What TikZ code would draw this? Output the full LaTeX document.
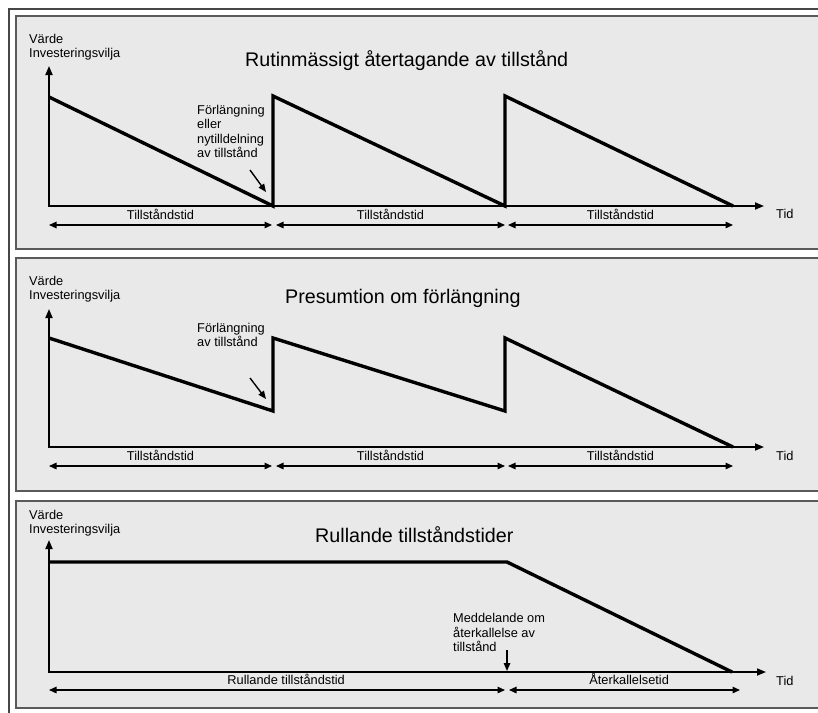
\documentclass[tikz,border=0pt]{standalone}
\usepackage{fontspec}
\setmainfont{Liberation Sans}
\usetikzlibrary{arrows.meta,positioning}
\definecolor{panelfill}{RGB}{233,233,233}
\definecolor{panelrim}{RGB}{90,90,90}
\definecolor{framerim}{RGB}{70,70,70}
\tikzset{
  % texts
  lbl/.style={font=\fontsize{12.8}{14.5}\selectfont, inner sep=0pt},
  ttl/.style={font=\fontsize{19.7}{22}\selectfont, inner sep=0pt, anchor=base west},
  % panels
  panel/.style={draw=panelrim, fill=panelfill, line width=1.5pt},
  % axes, both ends tipped
  axes/.style={{Triangle[length=9pt,width=7pt]}-{Triangle[length=9pt,width=7pt]}, line width=1.7pt},
  % value line
  valueline/.style={line width=3.4pt},
  % time spans
  tspan/.style={{Triangle[length=7.5pt,width=6.5pt]}-{Triangle[length=7.5pt,width=6.5pt]}, line width=1.3pt},
  % pointer arrows
  ptr/.style={-{Triangle[length=8pt,width=6.5pt]}, line width=1.4pt},
}
\begin{document}
\begin{tikzpicture}[x=1pt, y=-1pt]
  \useasboundingbox (0,0) rectangle (818,712);
  \clip (0,0) rectangle (818,712);

  % Frame and panels
  \draw[framerim, line width=1.5pt, fill=white] (9,9) rectangle (830,720);
  \draw[panel] (16,16) rectangle (830,249);
  \draw[panel] (16,258) rectangle (830,491);
  \draw[panel] (16,501) rectangle (830,708);

  % Panel 1
  \node[ttl] (ttl1) at (245,66) {Rutinmässigt återtagande av tillstånd};
  \node[lbl, align=left, anchor=north west] (val1) at (29,33.8) {Värde\\Investeringsvilja};
  \coordinate (y1) at (49,66);
  \coordinate (o1) at (49,206);
  \coordinate (x1) at (764,206);
  \node[lbl, anchor=base west] (tid1) at (776,218) {Tid};
  \draw[axes] (y1) -- (o1) -- (x1);
  \draw[valueline] (49,97) -- (273,206) -- (273,96) -- (505,206) -- (505,96) -- (733,206);
  \node[lbl, align=left, anchor=north west] (ann1) at (197,104.8) {Förlängning\\eller\\nytilldelning\\av tillstånd};
  \coordinate (p1a) at (250,170);
  \coordinate (p1b) at (266,192);
  \draw[ptr] (p1a) -- (p1b);
  \draw[tspan] (49,225) -- node[lbl, above=5pt] (s11) {Tillståndstid} (272,225);
  \draw[tspan] (276,225) -- node[lbl, above=5pt] (s12) {Tillståndstid} (505,225);
  \draw[tspan] (508,225) -- node[lbl, above=5pt] (s13) {Tillståndstid} (733,225);

  % Panel 2
  \node[ttl] (ttl2) at (285,303) {Presumtion om förlängning};
  \node[lbl, align=left, anchor=north west] (val2) at (29,275.8) {Värde\\Investeringsvilja};
  \coordinate (y2) at (49,309);
  \coordinate (o2) at (49,447);
  \coordinate (x2) at (764,447);
  \node[lbl, anchor=base west] (tid2) at (776,460) {Tid};
  \draw[axes] (y2) -- (o2) -- (x2);
  \draw[valueline] (49,338) -- (273,411) -- (273,338) -- (505,411) -- (505,338) -- (733,447);
  \node[lbl, align=left, anchor=north west] (ann2) at (197,322.8) {Förlängning\\av tillstånd};
  \coordinate (p2a) at (250,378);
  \coordinate (p2b) at (266,399);
  \draw[ptr] (p2a) -- (p2b);
  \draw[tspan] (49,466) -- node[lbl, above=5pt] (s21) {Tillståndstid} (272,466);
  \draw[tspan] (276,466) -- node[lbl, above=5pt] (s22) {Tillståndstid} (505,466);
  \draw[tspan] (508,466) -- node[lbl, above=5pt] (s23) {Tillståndstid} (733,466);

  % Panel 3
  \node[ttl] (ttl3) at (315,542) {Rullande tillståndstider};
  \node[lbl, align=left, anchor=north west] (val3) at (29,509.8) {Värde\\Investeringsvilja};
  \coordinate (y3) at (49,540);
  \coordinate (o3) at (49,672);
  \coordinate (x3) at (766,672);
  \node[lbl, anchor=base west] (tid3) at (776,685) {Tid};
  \draw[axes] (y3) -- (o3) -- (x3);
  \draw[valueline] (49,562) -- (507,562) -- (732,672);
  \node[lbl, align=left, anchor=north west] (ann3) at (453,613.5) {Meddelande om\\återkallelse av\\tillstånd};
  \coordinate (p3a) at (507,650);
  \coordinate (p3b) at (507,671);
  \draw[ptr] (p3a) -- (p3b);
  \draw[tspan] (49,690) -- node[lbl, above=5pt, pos=.52] (s31) {Rullande tillståndstid} (505,690);
  \draw[tspan] (509,690) -- node[lbl, above=5pt, pos=.52] (s32) {Återkallelsetid} (740,690);
\end{tikzpicture}
\end{document}
